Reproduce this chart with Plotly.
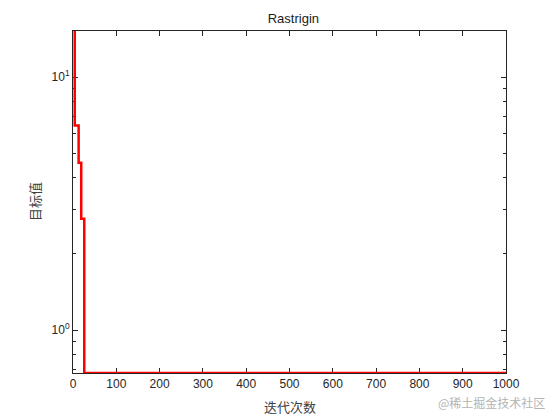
import plotly.graph_objects as go

# convergence curve (best value so far), step changes only
iters = [1, 4, 13, 19, 26, 1000]
best_vals = [15.2, 6.43, 4.58, 2.75, 0.676, 0.676]

x_ticks = list(range(0, 1001, 100))
y_ticks = [1, 10]
y_ticktext = ["10<sup>0</sup>", "10<sup>1</sup>"]
y_minor = [0.7, 0.8, 0.9, 2, 3, 4, 5, 6, 7, 8, 9]

axis_col = "#262626"
font_main = "Liberation Sans, Arial, sans-serif"
font_cjk = "Noto Sans CJK SC, sans-serif"

fig = go.Figure()

fig.add_trace(go.Scatter(
    x=iters,
    y=best_vals,
    mode="lines",
    line=dict(color="#ff0000", width=2.5, shape="hv"),
    showlegend=False,
))

# page body adds 8px offset, so the figure is 8px smaller than the window
fig.update_layout(
    width=552,
    height=412,
    margin=dict(l=65, r=54, t=23, b=47, autoexpand=False),
    paper_bgcolor="white",
    plot_bgcolor="white",
    font=dict(family=font_main, size=12, color=axis_col),
    title=dict(
        text="Rastrigin",
        x=0.517, xanchor="center",
        y=0.975, yanchor="middle",
        font=dict(family=font_main, size=13, color="#1a1a1a"),
    ),
    xaxis=dict(
        range=[0, 1000],
        tickvals=x_ticks,
        ticks="inside",
        ticklen=5,
        tickcolor=axis_col,
        showline=True,
        linecolor=axis_col,
        linewidth=1,
        mirror="allticks",
        showgrid=False,
        zeroline=False,
        automargin=False,
        layer="below traces",
    ),
    yaxis=dict(
        type="log",
        range=[-0.17, 1.182],
        tickvals=y_ticks,
        ticktext=y_ticktext,
        ticks="inside",
        ticklen=5,
        tickcolor=axis_col,
        minor=dict(tickvals=y_minor, ticks="inside", ticklen=3, tickcolor=axis_col),
        showline=True,
        linecolor=axis_col,
        linewidth=1,
        mirror="allticks",
        showgrid=False,
        zeroline=False,
        automargin=False,
        layer="below traces",
    ),
)

# axis titles
fig.add_annotation(
    text="迭代次数", xref="paper", yref="paper", x=0.5, y=-0.0994,
    xanchor="center", yanchor="middle", showarrow=False,
    font=dict(family=font_cjk, size=13, color="#404040"),
)
fig.add_annotation(
    text="目标值", xref="paper", yref="paper", x=-0.09, y=0.5, textangle=-90,
    xanchor="center", yanchor="middle", showarrow=False,
    font=dict(family=font_cjk, size=13, color="#404040"),
)

fig.add_annotation(
    text="@稀土掘金技术社区",
    xref="paper", yref="paper",
    x=1.095, y=-0.085,
    xanchor="right", yanchor="middle",
    showarrow=False,
    font=dict(family=font_cjk, size=12, color="#b4b4b4"),
)

fig.write_html("out.html")
